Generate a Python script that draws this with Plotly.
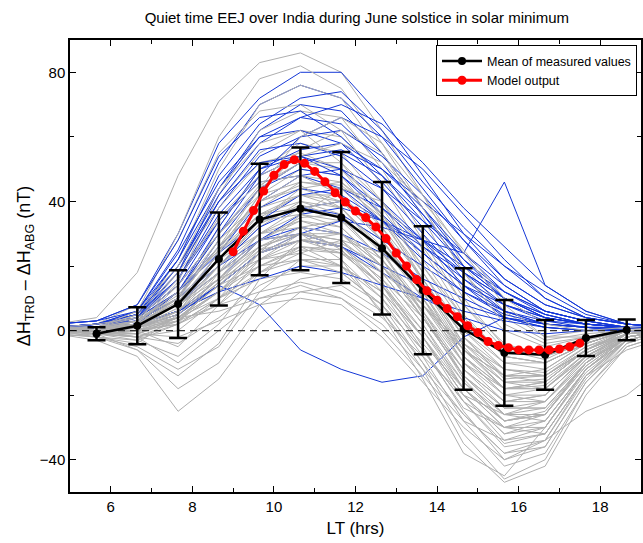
import plotly.graph_objects as go

# Local time of hourly samples (hrs)
hours = [4.65, 5.65, 6.65, 7.65, 8.65, 9.65, 10.65, 11.65, 12.65, 13.65,
         14.65, 15.65, 16.65, 17.65, 18.65, 19.65]

# Individual quiet days (grey)
gray_days = [
    [2, 4, 18, 48, 71, 83, 86, 80, 62, 42, 20, 6, -2, 0, 1, 0],
    [0, 1, 6, 30, 60, 78, 82, 75, 58, 38, 18, 4, -3, -1, 0, 0],
    [-1, 0, 4, 22, 50, 70, 76, 72, 55, 35, 12, 0, -5, -2, 0, 0],
    [1, 2, 8, 28, 55, 68, 70, 62, 45, 25, 5, -8, -10, -4, 0, 1],
    [0, -1, 2, 15, 42, 62, 68, 66, 50, 30, 10, -5, -8, -3, 0, 0],
    [0, 0, 3, 18, 40, 55, 62, 60, 48, 28, 8, -6, -9, -3, 1, 0],
    [-2, -1, 1, 10, 32, 50, 58, 55, 40, 18, -2, -15, -14, -5, -1, 0],
    [1, 0, 5, 20, 38, 52, 55, 50, 35, 15, -5, -18, -16, -6, 0, 0],
    [0, 1, 2, 12, 30, 45, 52, 50, 38, 20, 2, -10, -12, -4, 0, 0],
    [0, -2, -4, 5, 25, 42, 50, 48, 32, 12, -8, -20, -18, -8, -2, 0],
    [1, 0, 2, 8, 22, 38, 46, 45, 35, 18, 0, -12, -13, -5, 0, 1],
    [0, 1, 3, 10, 28, 40, 44, 40, 28, 10, -10, -22, -20, -8, -1, 0],
    [-1, -2, -3, 2, 18, 35, 42, 42, 30, 14, -4, -16, -15, -6, -1, 0],
    [0, 0, 1, 6, 20, 32, 40, 38, 25, 5, -15, -28, -25, -10, -2, 0],
    [2, 1, 4, 12, 25, 36, 38, 35, 22, 8, -6, -14, -12, -4, 0, 0],
    [0, -1, -2, 3, 15, 28, 35, 36, 28, 12, -8, -20, -22, -10, -2, 0],
    [0, 0, 2, 10, 22, 30, 34, 30, 18, 2, -18, -30, -28, -12, -3, 0],
    [-1, 0, -1, 4, 12, 25, 32, 34, 26, 14, 0, -10, -10, -4, 0, 0],
    [0, 1, 0, -5, 8, 22, 30, 28, 15, -2, -22, -35, -32, -14, -3, 0],
    [1, 0, 1, 5, 14, 24, 28, 26, 16, 4, -12, -24, -24, -10, -1, 0],
    [0, -1, -3, -8, 2, 18, 26, 25, 14, -5, -25, -40, -36, -16, -4, 0],
    [0, 0, 2, 6, 12, 20, 25, 24, 18, 8, -4, -12, -14, -6, -1, 0],
    [-1, -2, -5, -12, -5, 12, 22, 22, 10, -8, -28, -42, -38, -18, -5, -1],
    [0, 1, 3, 8, 16, 22, 24, 20, 10, -4, -18, -28, -26, -10, -2, 0],
    [0, 0, -2, -4, 4, 14, 20, 20, 12, -2, -20, -32, -30, -12, -2, 0],
    [1, 0, 0, 2, 10, 16, 18, 16, 8, -6, -22, -36, -34, -15, -3, 0],
    [0, -1, -6, -18, -10, 8, 16, 18, 8, -10, -32, -46, -40, -18, -4, 0],
    [0, 0, 1, 3, 8, 12, 15, 12, 4, -8, -20, -26, -22, -8, -1, 0],
    [-1, -3, -8, -25, -15, 2, 12, 14, 6, -12, -35, -47, -42, -20, -5, -1],
    [0, 1, 2, 4, 6, 10, 12, 10, 2, -12, -26, -38, -36, -16, -3, 0],
    [0, 0, -1, -2, 3, 8, 10, 8, -2, -16, -30, -40, -34, -14, -2, 0],
    [1, 2, 4, 10, 20, 30, 32, 25, 12, -6, -24, -30, -26, -10, -1, 0],
    [0, -1, -2, 0, 10, 24, 36, 44, 40, 26, 8, -4, -8, -3, 0, 0],
    [0, 0, 1, 8, 24, 42, 56, 62, 55, 38, 18, 2, -4, -2, 0, 0],
    [0, 1, 3, 16, 35, 48, 54, 58, 52, 40, 25, 10, 2, 0, 1, 0],
    [0, 0, 2, 8, 18, 28, 30, 22, 5, -15, -38, -45, -30, -12, -2, 0],
    [-1, 0, 0, 6, 16, 26, 32, 30, 20, 6, -10, -18, -16, -6, 0, 0],
    [0, -2, -6, -14, -4, 16, 28, 30, 20, 4, -14, -26, -24, -10, -2, 0],
    [0, 0, 3, 12, 26, 40, 45, 38, 24, 6, -14, -26, -28, -12, -2, 0],
    [1, 1, 5, 18, 34, 46, 48, 42, 28, 10, -6, -16, -18, -8, -1, 0],
    [0, 0, 0, 2, 8, 18, 24, 28, 24, 14, 2, -6, -8, -4, 0, 0],
    [0, -1, -1, 4, 14, 20, 22, 18, 8, -6, -22, -30, -32, -14, -6, -2],
    [0, 0, 2, 14, 30, 44, 60, 66, 58, 42, 24, 8, -2, -2, 0, 0],
    [0, 1, 6, 20, 44, 58, 62, 52, 36, 16, -4, -14, -14, -6, -1, 0],
    [0, 0, -2, -10, 0, 10, 14, 10, 0, -14, -28, -34, -30, -12, -3, 0],
    [0, 0, 1, 4, 12, 22, 26, 20, 6, -10, -26, -38, -34, -25, -20, -10],
    [0, 0, 2, 9, 24, 36, 40, 36, 24, 8, -10, -20, -20, -8, -1, 0],
    [0, 1, 1, 6, 18, 30, 36, 34, 22, 4, -14, -24, -22, -9, -2, 0],
    [1, 0, 3, 10, 26, 38, 42, 38, 26, 10, -8, -18, -17, -7, -1, 0],
    [0, -1, 0, 4, 14, 26, 30, 28, 18, 2, -16, -28, -26, -11, -2, 0],
    [0, 0, 2, 8, 20, 34, 44, 46, 36, 20, 4, -8, -10, -4, 0, 0],
    [-1, 0, 1, 5, 16, 30, 38, 40, 30, 14, -6, -18, -18, -7, -1, 0],
    [0, 1, 4, 14, 30, 42, 46, 44, 32, 16, -2, -12, -14, -6, 0, 0],
    [0, 0, 0, 3, 12, 22, 28, 26, 16, 0, -18, -30, -30, -13, -3, 0],
    [0, -1, -2, 2, 10, 20, 26, 24, 14, -2, -20, -34, -32, -14, -3, 0],
    [1, 1, 3, 12, 28, 40, 48, 46, 34, 16, -2, -14, -16, -6, 0, 0],
    [0, 0, 1, 7, 20, 33, 39, 35, 22, 6, -12, -22, -22, -9, -1, 0],
    [0, 0, 2, 6, 16, 28, 34, 32, 20, 4, -12, -22, -20, -8, -1, 0],
    [0, -1, -1, 3, 12, 24, 30, 30, 22, 8, -8, -18, -18, -7, -1, 0],
    [0, 1, 2, 9, 22, 36, 42, 40, 28, 12, -6, -16, -16, -6, 0, 0],
    [0, 0, 1, 4, 10, 18, 22, 20, 12, -2, -18, -28, -26, -10, -2, 0],
    [1, 0, 2, 8, 18, 26, 30, 26, 14, -2, -20, -32, -28, -12, -2, 0],
    [0, 0, 3, 11, 25, 34, 36, 32, 20, 4, -14, -24, -24, -10, -2, 0],
    [0, 1, 2, 10, 26, 44, 52, 52, 40, 22, 4, -8, -10, -4, 0, 0],
    [0, 0, 1, 5, 15, 25, 28, 24, 14, 0, -16, -26, -26, -11, -2, 0],
    [-1, -1, 0, 4, 14, 24, 28, 27, 20, 8, -6, -14, -14, -6, -1, 0],
]

# Individual quiet days (blue)
blue_days = [
    [2, 3, 8, 30, 58, 72, 80, 80, 66, 48, 30, 16, 8, 4, 2, 1],
    [1, 2, 6, 25, 52, 70, 76, 72, 60, 44, 28, 14, 6, 3, 1, 1],
    [0, 2, 5, 22, 48, 64, 72, 74, 62, 46, 32, 20, 10, 4, 2, 1],
    [1, 1, 4, 18, 44, 62, 70, 68, 55, 38, 22, 10, 5, 2, 1, 0],
    [0, 1, 4, 20, 42, 58, 66, 64, 52, 36, 20, 10, 4, 2, 1, 0],
    [2, 3, 6, 24, 46, 60, 62, 58, 46, 32, 18, 8, 3, 2, 1, 1],
    [0, 1, 3, 16, 38, 54, 60, 62, 54, 42, 28, 16, 8, 4, 2, 1],
    [1, 2, 5, 18, 40, 56, 58, 54, 44, 30, 16, 6, 2, 1, 1, 0],
    [0, 1, 2, 12, 32, 50, 56, 58, 50, 38, 24, 12, 6, 3, 1, 0],
    [1, 2, 4, 14, 34, 48, 54, 50, 40, 28, 14, 4, 1, 0, 1, 0],
    [0, 1, 3, 10, 28, 44, 52, 55, 48, 36, 22, 12, 5, 2, 1, 0],
    [1, 1, 4, 14, 30, 44, 50, 48, 38, 26, 16, 8, 4, 2, 1, 0],
    [0, 2, 5, 16, 34, 46, 48, 44, 34, 22, 12, 5, 2, 1, 0, 0],
    [0, 1, 2, 8, 24, 40, 48, 50, 44, 34, 24, 14, 6, 3, 1, 0],
    [1, 2, 3, 12, 26, 38, 44, 42, 34, 24, 14, 6, 3, 1, 1, 0],
    [0, 1, 3, 10, 22, 34, 42, 44, 38, 28, 18, 10, 4, 2, 1, 0],
    [0, 1, 2, 8, 20, 32, 38, 40, 34, 26, 18, 10, 5, 2, 1, 0],
    [1, 2, 4, 12, 24, 34, 38, 36, 28, 20, 12, 6, 2, 1, 0, 0],
    [0, 1, 2, 6, 16, 28, 36, 38, 34, 28, 20, 12, 6, 3, 1, 0],
    [0, 0, 2, 8, 18, 28, 32, 30, 24, 16, 10, 4, 2, 1, 0, 0],
    [1, 1, 3, 10, 20, 28, 30, 26, 18, 10, 4, 0, -1, 0, 0, 0],
    [0, 1, 2, 6, 14, 8, -6, -12, -16, -14, -2, 4, 2, 1, 0, 0],
    [0, 1, 2, 6, 14, 24, 30, 34, 32, 28, 24, 46, 14, 6, 2, 1],
    [2, 3, 8, 28, 54, 66, 68, 60, 48, 34, 20, 10, 4, 2, 1, 1],
    [0, 1, 3, 12, 30, 48, 60, 66, 60, 50, 36, 22, 10, 4, 2, 1],
    [1, 2, 5, 20, 40, 52, 54, 48, 36, 24, 14, 8, 4, 2, 1, 0],
    [0, 0, 1, 5, 14, 24, 28, 26, 20, 14, 8, 4, 1, 0, 0, 0],
    [0, 1, 2, 6, 12, 16, 20, 18, 14, 10, 6, 3, 1, 0, 0, 0],
    [1, 2, 6, 22, 44, 60, 66, 70, 64, 52, 38, 26, 14, 6, 2, 1],
    [0, 1, 4, 16, 36, 50, 54, 56, 50, 40, 30, 20, 12, 5, 2, 1],
]

# Mean of measured values with standard deviation
mean_lt = [5.65, 6.65, 7.65, 8.65, 9.65, 10.65, 11.65, 12.65, 13.65,
           14.65, 15.65, 16.65, 17.65, 18.65]
mean_val = [-1.0, 1.5, 8.2, 22.2, 34.4, 37.7, 35.0, 25.5, 12.5,
            0.5, -6.9, -7.5, -2.3, 0.2]
mean_std = [2.0, 5.7, 10.5, 14.4, 17.3, 19.0, 20.3, 20.5, 19.8,
            18.8, 16.4, 10.8, 5.6, 3.2]

# Model output
model_lt = [9.0, 9.25, 9.5, 9.75, 10.0, 10.25, 10.5, 10.75, 11.0, 11.25,
            11.5, 11.75, 12.0, 12.25, 12.5, 12.75, 13.0, 13.25, 13.5, 13.75,
            14.0, 14.25, 14.5, 14.75, 15.0, 15.25, 15.5, 15.75, 16.0, 16.25,
            16.5, 16.75, 17.0, 17.25, 17.5]
model_val = [24.4, 30.8, 37.2, 43.2, 48.1, 51.4, 52.9, 51.8, 49.3, 46.1,
             42.7, 39.8, 37.0, 35.0, 32.1, 28.5, 24.0, 20.0, 15.8, 12.3,
             9.4, 6.8, 4.3, 1.5, -0.6, -3.4, -4.6, -5.3, -6.0, -6.0,
             -6.0, -6.0, -5.7, -5.0, -3.9]

X_RANGE = [5, 19]
Y_RANGE = [-50, 90]

GRAY = "rgb(175,175,175)"
BLUE = "rgb(20,55,215)"

fig = go.Figure()

# interleave grey and blue days so neither colour sits wholly on top
n_max = max(len(gray_days), len(blue_days))
for i in range(n_max):
    for days, col in ((gray_days, GRAY), (blue_days, BLUE)):
        if i < len(days):
            fig.add_trace(go.Scatter(x=hours, y=days[i], mode="lines",
                                     line=dict(color=col, width=1),
                                     showlegend=False, hoverinfo="skip"))

fig.add_trace(go.Scatter(x=X_RANGE, y=[0, 0], mode="lines",
                         line=dict(color="rgb(50,50,50)", width=1.2, dash="7px,5px"),
                         showlegend=False, hoverinfo="skip"))

fig.add_trace(go.Scatter(x=mean_lt, y=mean_val, mode="lines+markers",
                         name="Mean of measured values",
                         line=dict(color="black", width=2.5),
                         marker=dict(color="black", size=8),
                         error_y=dict(type="data", array=mean_std, visible=True,
                                      color="black", thickness=2.5, width=9)))

fig.add_trace(go.Scatter(x=model_lt, y=model_val, mode="lines+markers",
                         name="Model output",
                         line=dict(color="red", width=3),
                         marker=dict(color="red", size=9)))

axis_common = dict(showline=True, linecolor="black", linewidth=1.5, mirror="ticks",
                   ticks="inside", ticklen=6, tickcolor="black", showgrid=False,
                   zeroline=False, tickfont=dict(size=15, color="black"))

fig.update_xaxes(range=X_RANGE, dtick=2, tick0=0,
                 minor=dict(dtick=1, ticks="inside", ticklen=4, tickcolor="black"),
                 title=dict(text="LT (hrs)", font=dict(size=17, color="black"), standoff=8),
                 **axis_common)
fig.update_yaxes(range=Y_RANGE, dtick=40, tick0=0,
                 minor=dict(dtick=20, ticks="inside", ticklen=4, tickcolor="black"),
                 title=dict(text="ΔH<sub>TRD</sub> – ΔH<sub>ABG</sub> (nT)",
                            font=dict(size=18, color="black"), standoff=4),
                 **axis_common)

fig.update_layout(
    width=643, height=543,
    margin=dict(l=70, r=0, t=40, b=51),
    paper_bgcolor="white", plot_bgcolor="white",
    font=dict(family="Liberation Sans, Arial, sans-serif", color="black"),
    title=dict(text="Quiet time EEJ over India during June solstice in solar minimum",
               x=0.555, xanchor="center", y=0.967, yanchor="middle",
               font=dict(size=15, color="black")),
    legend=dict(x=0.993, xanchor="right", y=0.988, yanchor="top",
                bgcolor="white", bordercolor="black", borderwidth=1,
                font=dict(size=12.5, color="black"),
                tracegroupgap=0, itemwidth=40),
)

fig.write_html("out.html")
